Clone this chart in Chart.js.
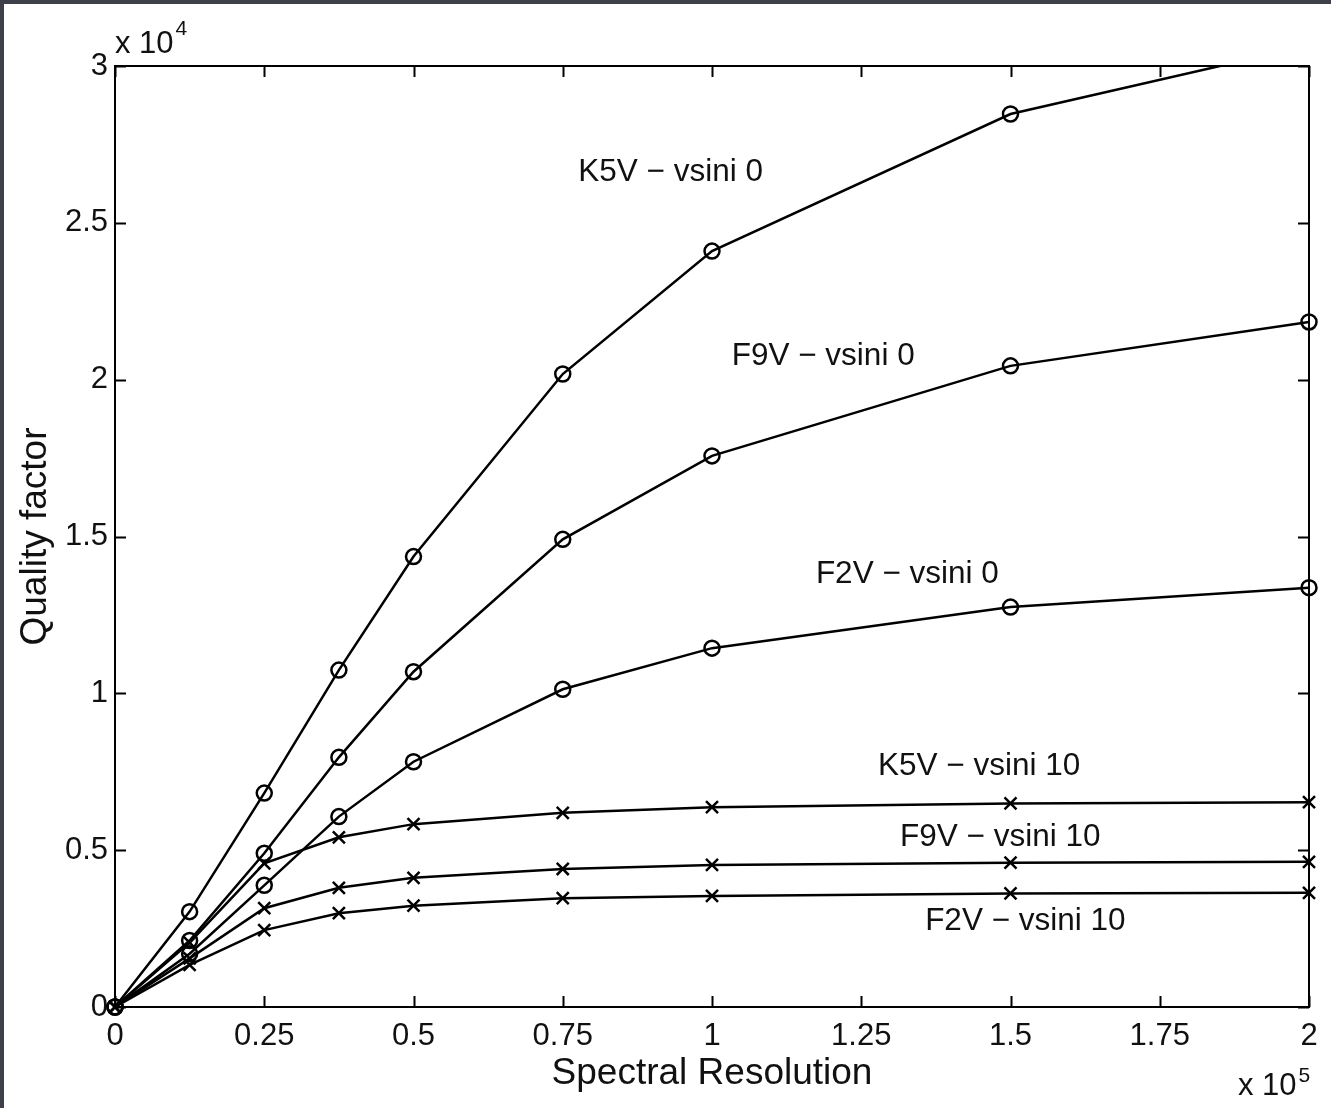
<!DOCTYPE html>
<html>
<head>
<meta charset="utf-8">
<script src="https://cdn.jsdelivr.net/npm/chart.js@4.4.1/dist/chart.umd.min.js"></script>
<style>
  html, body { margin: 0; padding: 0; width: 1331px; height: 1108px; overflow: hidden; background: #3d4049; }
  #wrap { position: absolute; left: 4px; top: 4px; width: 1327px; height: 1104px; background: #ffffff; }
  canvas { display: block; }
</style>
</head>
<body>
<div id="wrap"><canvas id="chart" width="1327" height="1104"></canvas></div>
<script>
// Spectral resolution samples (R)
const resolution = [0, 12500, 25000, 37500, 50000, 75000, 100000, 150000, 200000];

// Quality factor per star type and rotation
const k5vVsini0  = [0, 3040, 6820, 10740, 14360, 20180, 24100, 28470, 30650];
const f9vVsini0  = [0, 2120, 4900, 7960, 10690, 14910, 17570, 20440, 21840];
const f2vVsini0  = [0, 1700, 3880, 6070, 7820, 10130, 11440, 12750, 13370];
const k5vVsini10 = [0, 2050, 4580, 5410, 5830, 6190, 6370, 6490, 6530];
const f9vVsini10 = [0, 1550, 3150, 3800, 4120, 4400, 4530, 4600, 4630];
const f2vVsini10 = [0, 1340, 2450, 2990, 3230, 3470, 3540, 3620, 3640];

// Tick labels (scaled by the exponent shown next to each axis)
const xTickLabels = ['0', '0.25', '0.5', '0.75', '1', '1.25', '1.5', '1.75', '2'];
const yTickLabels = ['0', '0.5', '1', '1.5', '2', '2.5', '3'];

// Curve labels, anchored in data coordinates (left edge, vertical middle)
const curveLabels = ['K5V \u2212 vsini 0', 'F9V \u2212 vsini 0', 'F2V \u2212 vsini 0',
                     'K5V \u2212 vsini 10', 'F9V \u2212 vsini 10', 'F2V \u2212 vsini 10'];
const curveLabelX = [77600, 103300, 117400, 127800, 131500, 135700];
const curveLabelY = [26600, 20750, 13800, 7680, 5420, 2740];

const FONT = '"Liberation Sans", Arial, Helvetica, sans-serif';
const INK = '#111111';

function series(values) {
  return values.map((v, i) => ({ x: resolution[i], y: v }));
}

function lineSet(label, values, marker) {
  const circle = marker === 'circle';
  return {
    label,
    data: series(values),
    borderColor: '#000',
    borderWidth: 2.5,
    backgroundColor: 'rgba(0,0,0,0)',
    pointStyle: circle ? 'circle' : 'crossRot',
    pointRadius: circle ? 7.5 : 8.5,
    pointBorderWidth: 2.5,
    pointBorderColor: '#000',
    pointBackgroundColor: 'rgba(0,0,0,0)',
    tension: 0,
    fill: false,
    clip: { left: 12, right: 12, top: 0, bottom: 12 }
  };
}

// Box, inward tick marks, exponent notes and curve labels
const axesDecor = {
  id: 'axesDecor',
  afterDatasetsDraw(chart) {
    const { ctx, scales } = chart;
    const xs = scales.x, ys = scales.y;
    ctx.save();
    ctx.fillStyle = INK;
    ctx.font = '31.5px ' + FONT;
    ctx.textAlign = 'left';
    ctx.textBaseline = 'middle';
    curveLabels.forEach((t, i) => {
      ctx.fillText(t, xs.getPixelForValue(curveLabelX[i]), ys.getPixelForValue(curveLabelY[i]));
    });
    ctx.restore();
  },
  afterDraw(chart) {
    const { ctx, chartArea: a, scales } = chart;
    const xs = scales.x, ys = scales.y;
    const tl = 11;
    ctx.save();
    ctx.strokeStyle = '#000';
    ctx.lineWidth = 2;
    ctx.strokeRect(a.left, a.top, a.right - a.left, a.bottom - a.top);
    ctx.beginPath();
    xs.ticks.forEach(t => {
      const px = Math.round(xs.getPixelForValue(t.value)) + 0.5;
      ctx.moveTo(px, a.bottom); ctx.lineTo(px, a.bottom - tl);
      ctx.moveTo(px, a.top); ctx.lineTo(px, a.top + tl);
    });
    ys.ticks.forEach(t => {
      const py = Math.round(ys.getPixelForValue(t.value)) + 0.5;
      ctx.moveTo(a.left, py); ctx.lineTo(a.left + tl, py);
      ctx.moveTo(a.right, py); ctx.lineTo(a.right - tl, py);
    });
    ctx.stroke();

    // exponent notes
    ctx.fillStyle = INK;
    ctx.textAlign = 'left';
    ctx.textBaseline = 'alphabetic';
    ctx.font = '31px ' + FONT;
    const base = 'x 10';
    const w = ctx.measureText(base).width;
    ctx.fillText(base, a.left, a.top - 13);
    ctx.fillText(base, a.right - 71, a.bottom + 88);
    ctx.font = '21px ' + FONT;
    ctx.fillText('4', a.left + w + 2, a.top - 31);
    ctx.fillText('5', a.right - 71 + w + 2, a.bottom + 75);
    ctx.restore();
  }
};

new Chart(document.getElementById('chart'), {
  type: 'line',
  data: {
    datasets: [
      lineSet('K5V - vsini 0', k5vVsini0, 'circle'),
      lineSet('F9V - vsini 0', f9vVsini0, 'circle'),
      lineSet('F2V - vsini 0', f2vVsini0, 'circle'),
      lineSet('K5V - vsini 10', k5vVsini10, 'cross'),
      lineSet('F9V - vsini 10', f9vVsini10, 'cross'),
      lineSet('F2V - vsini 10', f2vVsini10, 'cross')
    ]
  },
  options: {
    responsive: false,
    animation: false,
    devicePixelRatio: 1,
    layout: { padding: { left: 0, top: 62, right: 22, bottom: 0 } },
    plugins: { legend: { display: false }, tooltip: { enabled: false } },
    scales: {
      x: {
        type: 'linear',
        min: 0, max: 200000,
        grid: { display: false, drawTicks: false },
        border: { display: false },
        ticks: {
          stepSize: 25000, autoSkip: false, maxRotation: 0, padding: 11,
          color: INK, font: { family: FONT, size: 31 },
          callback: (v, i) => xTickLabels[i]
        },
        title: {
          display: true, text: 'Spectral Resolution', color: INK,
          font: { family: FONT, size: 37 }, padding: { top: 0, bottom: 12 }
        },
        afterFit: s => { s.height = 101; }
      },
      y: {
        type: 'linear',
        min: 0, max: 30000,
        grid: { display: false, drawTicks: false },
        border: { display: false },
        ticks: {
          stepSize: 5000, autoSkip: false, padding: 7,
          color: INK, font: { family: FONT, size: 31 },
          callback: (v, i) => yTickLabels[i]
        },
        title: {
          display: true, text: 'Quality factor', color: INK,
          font: { family: FONT, size: 37 }, padding: { top: 10, bottom: 0 }
        },
        afterFit: s => { s.width = 111; }
      }
    }
  },
  plugins: [axesDecor]
});
</script>
</body>
</html>
